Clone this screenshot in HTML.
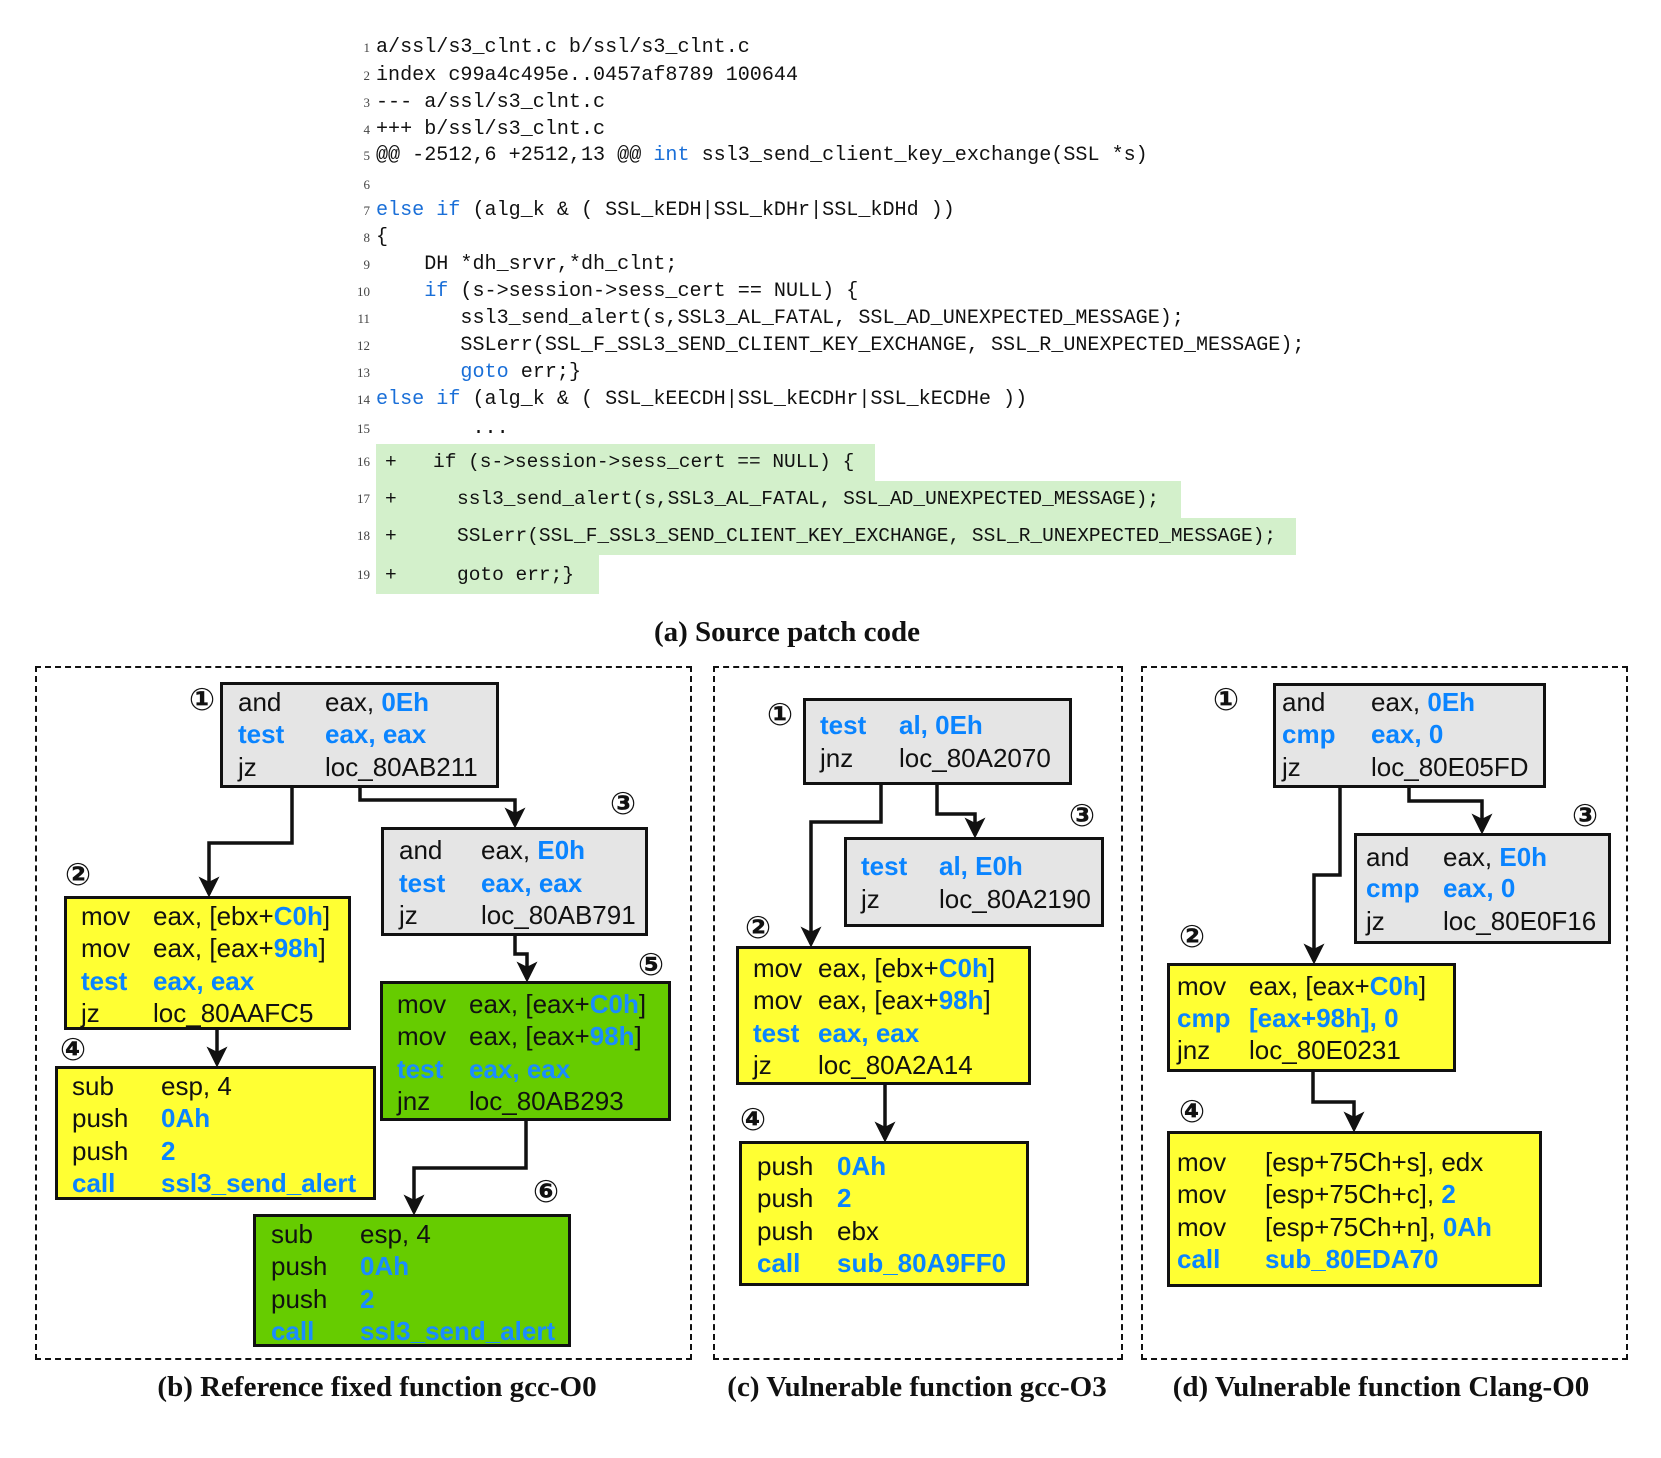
<!DOCTYPE html>
<html><head><meta charset="utf-8">
<style>
body{margin:0;background:#fff;}
#c{position:relative;width:1661px;height:1458px;overflow:hidden;background:#fff;}
.cl{position:absolute;font-family:"Liberation Mono",monospace;font-size:20.1px;line-height:26px;white-space:pre;color:#111;}
.gl{position:absolute;font-family:"Liberation Mono",monospace;font-size:19.5px;line-height:26px;white-space:pre;color:#111;}
.ln{position:absolute;font-family:"Liberation Serif",serif;font-size:13px;line-height:26px;color:#444;width:14px;text-align:right;}
.k{color:#1a6fd8;}
.hl{position:absolute;background:#d3f0cb;}
.cap{position:absolute;font-family:"Liberation Serif",serif;font-weight:bold;font-size:29px;line-height:30px;white-space:nowrap;transform:translateX(-50%);color:#111;}
.db{position:absolute;border:2.5px dashed #111;box-sizing:border-box;}
.bx{position:absolute;border:3.5px solid #111;box-sizing:border-box;}
.g{background:#e5e5e5;}.y{background:#ffff33;}.gr{background:#66cc00;}
.t{position:absolute;font-family:"Liberation Sans",sans-serif;font-size:26px;line-height:32px;white-space:pre;color:#111;}
.b{color:#0a84ff;font-weight:bold;}
.bb{color:#1a8cff;font-weight:bold;}
.n{position:absolute;font-family:"DejaVu Sans",sans-serif;font-weight:bold;font-size:31px;line-height:32px;color:#111;transform:translate(-50%,-50%);}
</style></head><body><div id="c">

<div class="hl" style="left:376px;top:444px;width:499px;height:37px"></div>
<div class="hl" style="left:376px;top:481px;width:805px;height:37px"></div>
<div class="hl" style="left:376px;top:518px;width:920px;height:37px"></div>
<div class="hl" style="left:376px;top:555px;width:223px;height:39px"></div>

<div class="ln" style="left:356px;top:35px">1</div><div class="cl" style="left:376px;top:35px">a/ssl/s3_clnt.c b/ssl/s3_clnt.c</div>
<div class="ln" style="left:356px;top:63px">2</div><div class="cl" style="left:376px;top:63px">index c99a4c495e..0457af8789 100644</div>
<div class="ln" style="left:356px;top:90px">3</div><div class="cl" style="left:376px;top:90px">--- a/ssl/s3_clnt.c</div>
<div class="ln" style="left:356px;top:117px">4</div><div class="cl" style="left:376px;top:117px">+++ b/ssl/s3_clnt.c</div>
<div class="ln" style="left:356px;top:143px">5</div><div class="cl" style="left:376px;top:143px">@@ -2512,6 +2512,13 @@ <span class="k">int</span> ssl3_send_client_key_exchange(SSL *s)</div>
<div class="ln" style="left:356px;top:172px">6</div>
<div class="ln" style="left:356px;top:198px">7</div><div class="cl" style="left:376px;top:198px"><span class="k">else if</span> (alg_k &amp; ( SSL_kEDH|SSL_kDHr|SSL_kDHd ))</div>
<div class="ln" style="left:356px;top:225px">8</div><div class="cl" style="left:376px;top:225px">{</div>
<div class="ln" style="left:356px;top:252px">9</div><div class="cl" style="left:376px;top:252px">    DH *dh_srvr,*dh_clnt;</div>
<div class="ln" style="left:356px;top:279px">10</div><div class="cl" style="left:376px;top:279px">    <span class="k">if</span> (s-&gt;session-&gt;sess_cert == NULL) {</div>
<div class="ln" style="left:356px;top:306px">11</div><div class="cl" style="left:376px;top:306px">       ssl3_send_alert(s,SSL3_AL_FATAL, SSL_AD_UNEXPECTED_MESSAGE);</div>
<div class="ln" style="left:356px;top:333px">12</div><div class="cl" style="left:376px;top:333px">       SSLerr(SSL_F_SSL3_SEND_CLIENT_KEY_EXCHANGE, SSL_R_UNEXPECTED_MESSAGE);</div>
<div class="ln" style="left:356px;top:360px">13</div><div class="cl" style="left:376px;top:360px">       <span class="k">goto</span> err;}</div>
<div class="ln" style="left:356px;top:387px">14</div><div class="cl" style="left:376px;top:387px"><span class="k">else if</span> (alg_k &amp; ( SSL_kEECDH|SSL_kECDHr|SSL_kECDHe ))</div>
<div class="ln" style="left:356px;top:416px">15</div><div class="cl" style="left:376px;top:416px">        ...</div>

<div class="ln" style="left:356px;top:449px">16</div><div class="gl" style="left:385px;top:449px">+</div><div class="gl" style="left:433px;top:449px">if (s-&gt;session-&gt;sess_cert == NULL) {</div>
<div class="ln" style="left:356px;top:486px">17</div><div class="gl" style="left:385px;top:486px">+</div><div class="gl" style="left:457px;top:486px">ssl3_send_alert(s,SSL3_AL_FATAL, SSL_AD_UNEXPECTED_MESSAGE);</div>
<div class="ln" style="left:356px;top:523px">18</div><div class="gl" style="left:385px;top:523px">+</div><div class="gl" style="left:457px;top:523px">SSLerr(SSL_F_SSL3_SEND_CLIENT_KEY_EXCHANGE, SSL_R_UNEXPECTED_MESSAGE);</div>
<div class="ln" style="left:356px;top:562px">19</div><div class="gl" style="left:385px;top:562px">+</div><div class="gl" style="left:457px;top:562px">goto err;}</div>

<div class="cap" style="left:787px;top:617px">(a) Source patch code</div>

<div class="db" style="left:35px;top:666px;width:657px;height:694px"></div>
<div class="db" style="left:713px;top:666px;width:410px;height:694px"></div>
<div class="db" style="left:1141px;top:666px;width:487px;height:694px"></div>

<div class="cap" style="left:377px;top:1372px">(b) Reference fixed function gcc-O0</div>
<div class="cap" style="left:917px;top:1372px">(c) Vulnerable function gcc-O3</div>
<div class="cap" style="left:1381px;top:1372px">(d) Vulnerable function Clang-O0</div>

<div class="bx g" style="left:220px;top:682px;width:279px;height:106px"></div>
<div class="t" style="left:238px;top:686px">and</div><div class="t" style="left:325px;top:686px">eax, <span class="b">0Eh</span></div>
<div class="t b" style="left:238px;top:718px">test</div><div class="t b" style="left:325px;top:718px">eax, eax</div>
<div class="t" style="left:238px;top:751px">jz</div><div class="t" style="left:325px;top:751px">loc_80AB211</div>
<div class="n" style="left:202px;top:700px">①</div>

<div class="bx y" style="left:64px;top:896px;width:287px;height:134px"></div>
<div class="t" style="left:81px;top:900px">mov</div><div class="t" style="left:153px;top:900px">eax, [ebx+<span class="b">C0h</span>]</div>
<div class="t" style="left:81px;top:932px">mov</div><div class="t" style="left:153px;top:932px">eax, [eax+<span class="b">98h</span>]</div>
<div class="t b" style="left:81px;top:965px">test</div><div class="t b" style="left:153px;top:965px">eax, eax</div>
<div class="t" style="left:81px;top:997px">jz</div><div class="t" style="left:153px;top:997px">loc_80AAFC5</div>
<div class="n" style="left:78px;top:875px">②</div>

<div class="bx g" style="left:381px;top:827px;width:267px;height:109px"></div>
<div class="t" style="left:399px;top:834px">and</div><div class="t" style="left:481px;top:834px">eax, <span class="b">E0h</span></div>
<div class="t b" style="left:399px;top:867px">test</div><div class="t b" style="left:481px;top:867px">eax, eax</div>
<div class="t" style="left:399px;top:899px">jz</div><div class="t" style="left:481px;top:899px">loc_80AB791</div>
<div class="n" style="left:623px;top:804px">③</div>

<div class="bx y" style="left:55px;top:1066px;width:321px;height:134px"></div>
<div class="t" style="left:72px;top:1070px">sub</div><div class="t" style="left:161px;top:1070px">esp, 4</div>
<div class="t" style="left:72px;top:1102px">push</div><div class="t b" style="left:161px;top:1102px">0Ah</div>
<div class="t" style="left:72px;top:1135px">push</div><div class="t b" style="left:161px;top:1135px">2</div>
<div class="t b" style="left:72px;top:1167px">call</div><div class="t b" style="left:161px;top:1167px">ssl3_send_alert</div>
<div class="n" style="left:73px;top:1050px">④</div>

<div class="bx gr" style="left:380px;top:981px;width:291px;height:140px"></div>
<div class="t" style="left:397px;top:988px">mov</div><div class="t" style="left:469px;top:988px">eax, [eax+<span class="bb">C0h</span>]</div>
<div class="t" style="left:397px;top:1020px">mov</div><div class="t" style="left:469px;top:1020px">eax, [eax+<span class="bb">98h</span>]</div>
<div class="t bb" style="left:397px;top:1053px">test</div><div class="t bb" style="left:469px;top:1053px">eax, eax</div>
<div class="t" style="left:397px;top:1085px">jnz</div><div class="t" style="left:469px;top:1085px">loc_80AB293</div>
<div class="n" style="left:651px;top:965px">⑤</div>

<div class="bx gr" style="left:253px;top:1214px;width:318px;height:133px"></div>
<div class="t" style="left:271px;top:1218px">sub</div><div class="t" style="left:360px;top:1218px">esp, 4</div>
<div class="t" style="left:271px;top:1250px">push</div><div class="t bb" style="left:360px;top:1250px">0Ah</div>
<div class="t" style="left:271px;top:1283px">push</div><div class="t bb" style="left:360px;top:1283px">2</div>
<div class="t bb" style="left:271px;top:1315px">call</div><div class="t bb" style="left:360px;top:1315px">ssl3_send_alert</div>
<div class="n" style="left:546px;top:1192px">⑥</div>

<div class="bx g" style="left:803px;top:698px;width:269px;height:87px"></div>
<div class="t b" style="left:820px;top:709px">test</div><div class="t b" style="left:899px;top:709px">al, 0Eh</div>
<div class="t" style="left:820px;top:742px">jnz</div><div class="t" style="left:899px;top:742px">loc_80A2070</div>
<div class="n" style="left:780px;top:715px">①</div>

<div class="bx g" style="left:844px;top:837px;width:260px;height:90px"></div>
<div class="t b" style="left:861px;top:850px">test</div><div class="t b" style="left:939px;top:850px">al, E0h</div>
<div class="t" style="left:861px;top:883px">jz</div><div class="t" style="left:939px;top:883px">loc_80A2190</div>
<div class="n" style="left:1082px;top:816px">③</div>

<div class="bx y" style="left:736px;top:946px;width:295px;height:139px"></div>
<div class="t" style="left:753px;top:952px">mov</div><div class="t" style="left:818px;top:952px">eax, [ebx+<span class="b">C0h</span>]</div>
<div class="t" style="left:753px;top:984px">mov</div><div class="t" style="left:818px;top:984px">eax, [eax+<span class="b">98h</span>]</div>
<div class="t b" style="left:753px;top:1017px">test</div><div class="t b" style="left:818px;top:1017px">eax, eax</div>
<div class="t" style="left:753px;top:1049px">jz</div><div class="t" style="left:818px;top:1049px">loc_80A2A14</div>
<div class="n" style="left:758px;top:928px">②</div>

<div class="bx y" style="left:739px;top:1141px;width:290px;height:145px"></div>
<div class="t" style="left:757px;top:1150px">push</div><div class="t b" style="left:837px;top:1150px">0Ah</div>
<div class="t" style="left:757px;top:1182px">push</div><div class="t b" style="left:837px;top:1182px">2</div>
<div class="t" style="left:757px;top:1215px">push</div><div class="t" style="left:837px;top:1215px">ebx</div>
<div class="t b" style="left:757px;top:1247px">call</div><div class="t b" style="left:837px;top:1247px">sub_80A9FF0</div>
<div class="n" style="left:753px;top:1120px">④</div>

<div class="bx g" style="left:1273px;top:683px;width:273px;height:105px"></div>
<div class="t" style="left:1282px;top:686px">and</div><div class="t" style="left:1371px;top:686px">eax, <span class="b">0Eh</span></div>
<div class="t b" style="left:1282px;top:718px">cmp</div><div class="t b" style="left:1371px;top:718px">eax, 0</div>
<div class="t" style="left:1282px;top:751px">jz</div><div class="t" style="left:1371px;top:751px">loc_80E05FD</div>
<div class="n" style="left:1226px;top:700px">①</div>

<div class="bx g" style="left:1354px;top:833px;width:257px;height:111px"></div>
<div class="t" style="left:1366px;top:841px">and</div><div class="t" style="left:1443px;top:841px">eax, <span class="b">E0h</span></div>
<div class="t b" style="left:1366px;top:872px">cmp</div><div class="t b" style="left:1443px;top:872px">eax, 0</div>
<div class="t" style="left:1366px;top:905px">jz</div><div class="t" style="left:1443px;top:905px">loc_80E0F16</div>
<div class="n" style="left:1585px;top:816px">③</div>

<div class="bx y" style="left:1167px;top:963px;width:289px;height:109px"></div>
<div class="t" style="left:1177px;top:970px">mov</div><div class="t" style="left:1249px;top:970px">eax, [eax+<span class="b">C0h</span>]</div>
<div class="t b" style="left:1177px;top:1002px">cmp</div><div class="t b" style="left:1249px;top:1002px">[eax+98h], 0</div>
<div class="t" style="left:1177px;top:1034px">jnz</div><div class="t" style="left:1249px;top:1034px">loc_80E0231</div>
<div class="n" style="left:1192px;top:937px">②</div>

<div class="bx y" style="left:1167px;top:1131px;width:375px;height:156px"></div>
<div class="t" style="left:1177px;top:1146px">mov</div><div class="t" style="left:1265px;top:1146px">[esp+75Ch+s], edx</div>
<div class="t" style="left:1177px;top:1178px">mov</div><div class="t" style="left:1265px;top:1178px">[esp+75Ch+c], <span class="b">2</span></div>
<div class="t" style="left:1177px;top:1211px">mov</div><div class="t" style="left:1265px;top:1211px">[esp+75Ch+n], <span class="b">0Ah</span></div>
<div class="t b" style="left:1177px;top:1243px">call</div><div class="t b" style="left:1265px;top:1243px">sub_80EDA70</div>
<div class="n" style="left:1192px;top:1112px">④</div>

<svg width="1661" height="1458" style="position:absolute;left:0;top:0" xmlns="http://www.w3.org/2000/svg">
<defs><marker id="a" markerWidth="6" markerHeight="6" refX="5" refY="3" orient="auto" markerUnits="strokeWidth"><path d="M0,0 L6,3 L0,6 L1.5,3 z" fill="#111"/></marker></defs>
<g fill="none" stroke="#111" stroke-width="3.5" marker-end="url(#a)">
<polyline points="292,788 292,843 209,843 209,894"/>
<polyline points="360,788 360,800 515,800 515,825"/>
<polyline points="515,936 515,954 527,954 527,979"/>
<polyline points="217,1030 217,1064"/>
<polyline points="526,1121 526,1168 414,1168 414,1212"/>
<polyline points="881,785 881,822 811,822 811,944"/>
<polyline points="937,785 937,814 975,814 975,835"/>
<polyline points="885,1085 885,1139"/>
<polyline points="1340,788 1340,875 1314,875 1314,961"/>
<polyline points="1409,788 1409,801 1482,801 1482,831"/>
<polyline points="1313,1072 1313,1102 1354,1102 1354,1129"/>
</g></svg>
</div></body></html>
